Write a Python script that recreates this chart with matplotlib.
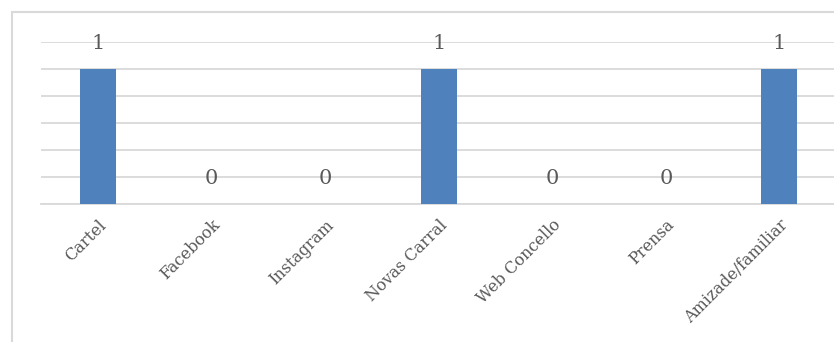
import matplotlib
matplotlib.use("Agg")
from matplotlib import pyplot as plt
from matplotlib.patches import Rectangle
import numpy as np

categories = ["Cartel", "Facebook", "Instagram", "Novas Carral", "Web Concello", "Prensa", "Amizade/familiar"]
values = [1, 0, 0, 1, 0, 0, 1]

textColor = "#595959"
gridColor = "#d9d9d9"
barColor = "#4f81bd"

plt.rcParams['font.family'] = ['DejaVu Serif']

fig = plt.figure(figsize=(8.34, 3.42), dpi=100)

# outer chart border (cropped at right and bottom)
fig.patches.append(Rectangle((12 / 834, -0.1), 1.0, (330 / 342) + 0.1,
                             transform=fig.transFigure, fill=False,
                             edgecolor=gridColor, linewidth=1.5))

ax = fig.add_axes([41.2 / 834, 138 / 342, 795 / 834, 162 / 342])
x = np.arange(len(categories))
ax.bar(x, values, width=0.317, color=barColor, zorder=3)

for xi, v in zip(x, values):
    ax.text(xi, v + 0.115, str(v), ha="center", va="bottom",
            fontsize=15, color=textColor)

ax.set_xlim(-0.5, 6.5)
ax.set_ylim(0, 1.2)
ax.set_yticks(np.arange(0, 1.21, 0.2))
ax.yaxis.grid(True, color=gridColor, linewidth=1.3, zorder=0)
ax.tick_params(axis="y", left=False, labelleft=False)
ax.tick_params(axis="x", length=0, pad=9)
ax.set_xticks(x)
ax.set_xticklabels(categories, rotation=45, ha="right", rotation_mode="anchor",
                   fontsize=11.5, color=textColor)
for side in ["top", "right", "left"]:
    ax.spines[side].set_visible(False)
ax.spines["bottom"].set_color(gridColor)
ax.spines["bottom"].set_linewidth(1.3)
ax.patch.set_alpha(0)

fig.savefig("out.png", dpi=100)
